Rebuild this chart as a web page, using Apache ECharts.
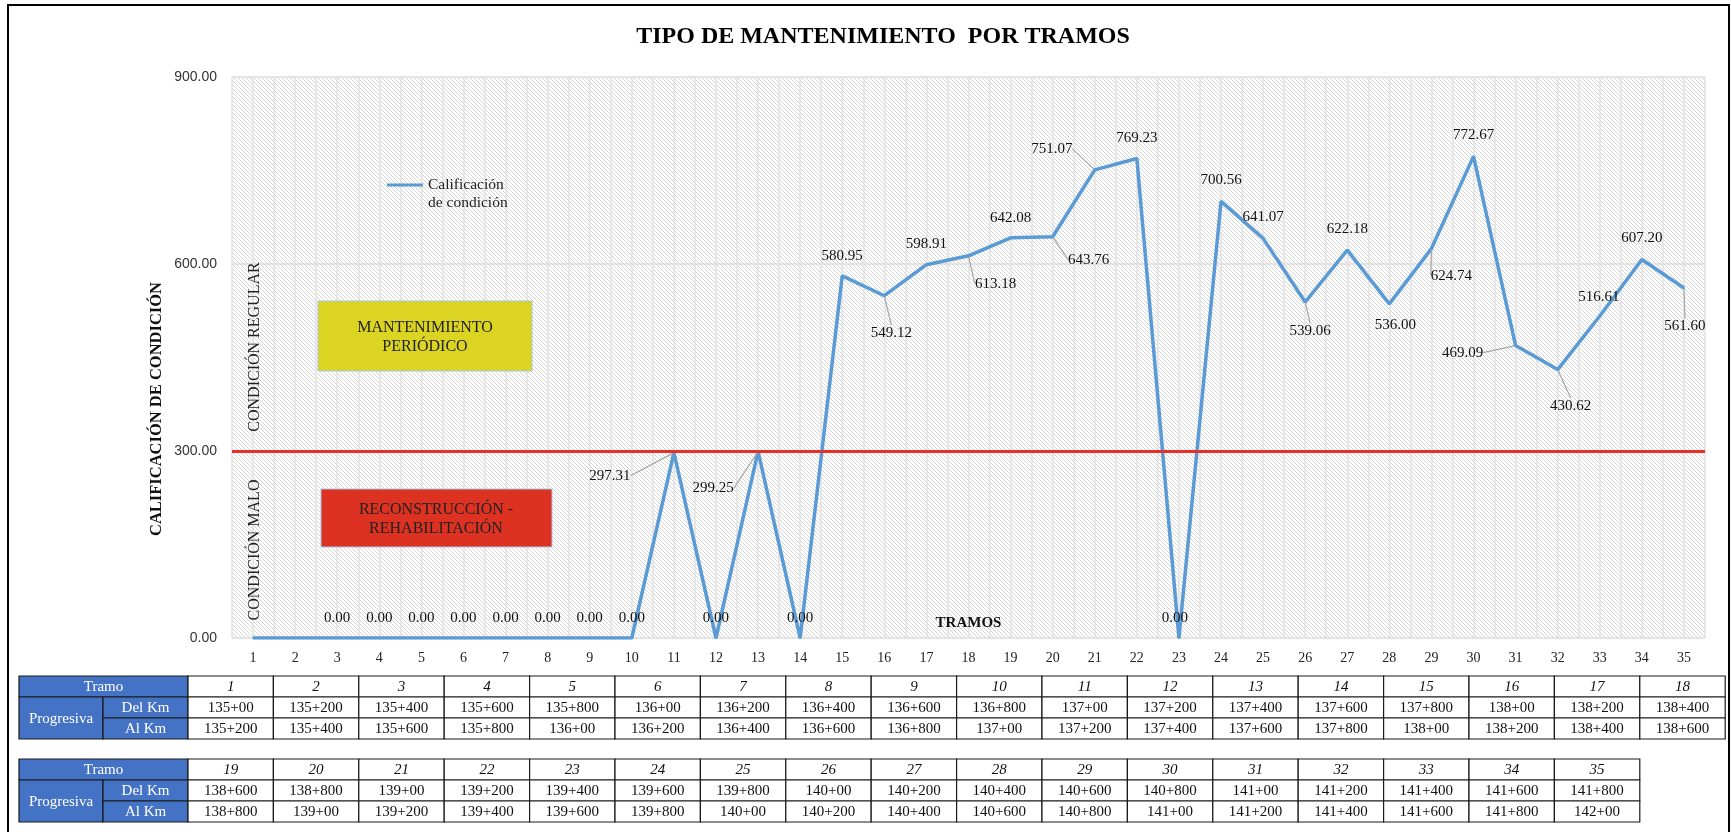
<!DOCTYPE html>
<html>
<head>
<meta charset="utf-8">
<title>Tipo de mantenimiento por tramos</title>
<script src="https://cdn.jsdelivr.net/npm/echarts@6/dist/echarts.min.js"></script>
<style>
  html, body { margin: 0; padding: 0; background: #fff; }
  #grafico { width: 1731px; height: 832px; }
</style>
</head>
<body>
<div id="grafico"></div>
<script>
// datos del grafico
var tramosEje = ['1','2','3','4','5','6','7','8','9','10','11','12','13','14','15','16','17','18',
  '19','20','21','22','23','24','25','26','27','28','29','30','31','32','33','34','35'];
var calificacion = [0, 0, 0, 0, 0, 0, 0, 0, 0, 0, 297.31, 0, 299.25, 0, 580.95, 549.12, 598.91, 613.18,
  642.08, 643.76, 751.07, 769.23, 0, 700.56, 641.07, 539.06, 622.18, 536.00, 624.74, 772.67,
  469.09, 430.62, 516.61, 607.20, 561.60];
var limite = 300;
var ejeY = [0, 300, 600, 900];

// tabla de progresivas
var tramos1 = ['1','2','3','4','5','6','7','8','9','10','11','12','13','14','15','16','17','18'];
var delKm1 = ['135+00','135+200','135+400','135+600','135+800','136+00','136+200','136+400','136+600',
  '136+800','137+00','137+200','137+400','137+600','137+800','138+00','138+200','138+400'];
var alKm1 = ['135+200','135+400','135+600','135+800','136+00','136+200','136+400','136+600','136+800',
  '137+00','137+200','137+400','137+600','137+800','138+00','138+200','138+400','138+600'];
var tramos2 = ['19','20','21','22','23','24','25','26','27','28','29','30','31','32','33','34','35'];
var delKm2 = ['138+600','138+800','139+00','139+200','139+400','139+600','139+800','140+00','140+200',
  '140+400','140+600','140+800','141+00','141+200','141+400','141+600','141+800'];
var alKm2 = ['138+800','139+00','139+200','139+400','139+600','139+800','140+00','140+200','140+400',
  '140+600','140+800','141+00','141+200','141+400','141+600','141+800','142+00'];

// posicion de etiquetas (dx, dy desde el punto) y si llevan linea guia
var desplaz = [
  [0,-20],[0,-20],[0,-20],[0,-20],[0,-20],[0,-20],[0,-20],[0,-20],[0,-20],[0,-20],
  [-64,23],[0,-20],[-45,37],[0,-20],[0,-20],[7,37],[0,-21],[27,28],[0,-20],[36,23],
  [-43,-21],[0,-20],[-4,-20],[0,-21],[0,-21],[5,29],[0,-21],[6,21],[20,27],[0,-21],
  [-53,7],[13,36],[-1,-19],[0,-21],[1,38]
];
var conGuia = [10, 12, 15, 17, 19, 20, 25, 28, 30, 31, 34];

var serif = 'Liberation Serif';

// trama rayada del fondo
var trama = document.createElement('canvas');
trama.width = 4; trama.height = 4;
var ctx = trama.getContext('2d');
ctx.fillStyle = '#ffffff';
ctx.fillRect(0, 0, 4, 4);
ctx.strokeStyle = '#d6d6d6';
ctx.lineWidth = 1;
ctx.beginPath();
ctx.moveTo(-1, -1); ctx.lineTo(5, 5);
ctx.moveTo(-1, 3); ctx.lineTo(1, 5);
ctx.moveTo(3, -1); ctx.lineTo(5, 1);
ctx.stroke();

function tabla(x0, y0, tramos, del, al) {
  var rh = 21, w1 = 84, w2 = 85, cw = 85.4;
  var borde = '#1a1a1a', azul = '#4472c4';
  var els = [];
  function celda(x, y, w, h, fill, txt, color, italic) {
    els.push({ type: 'rect', shape: { x: x, y: y, width: w, height: h },
      style: { fill: fill, stroke: borde, lineWidth: 1.2 } });
    els.push({ type: 'text', x: x + w / 2, y: y + h / 2 + 1,
      style: { text: txt, fill: color, align: 'center', verticalAlign: 'middle',
        font: (italic ? 'italic ' : '') + '15px "' + serif + '"' } });
  }
  celda(x0, y0, w1 + w2, rh, azul, 'Tramo', '#fff');
  celda(x0, y0 + rh, w1, rh * 2, azul, 'Progresiva', '#fff');
  celda(x0 + w1, y0 + rh, w2, rh, azul, 'Del Km', '#fff');
  celda(x0 + w1, y0 + rh * 2, w2, rh, azul, 'Al Km', '#fff');
  for (var i = 0; i < tramos.length; i++) {
    var x = x0 + w1 + w2 + i * cw;
    celda(x, y0, cw, rh, '#fff', tramos[i], '#111', true);
    celda(x, y0 + rh, cw, rh, '#fff', del[i], '#111');
    celda(x, y0 + rh * 2, cw, rh, '#fff', al[i], '#111');
  }
  return els;
}

var myChart = echarts.init(document.getElementById('grafico'));

var datos = calificacion.map(function (v, i) {
  return {
    value: v,
    label: { show: i >= 2 },
    labelLine: { show: conGuia.indexOf(i) >= 0 }
  };
});

var graficos = [
  { type: 'rect', shape: { x: 8, y: 5, width: 1721, height: 840 },
    style: { fill: 'none', stroke: '#000', lineWidth: 2 }, z: 10 },
  // cajas de tipo de mantenimiento
  { type: 'rect', shape: { x: 318, y: 301, width: 214, height: 70 },
    style: { fill: '#dcd422', stroke: '#a9c4e4', lineWidth: 1 }, z: 5 },
  { type: 'text', x: 425, y: 337, z: 6,
    style: { text: 'MANTENIMIENTO\nPERIÓDICO', font: '16px "' + serif + '"', fill: '#222',
      align: 'center', verticalAlign: 'middle', lineHeight: 19 } },
  { type: 'rect', shape: { x: 321, y: 489, width: 231, height: 58 },
    style: { fill: '#dd3222', stroke: '#a9c4e4', lineWidth: 1 }, z: 5 },
  { type: 'text', x: 436, y: 519, z: 6,
    style: { text: 'RECONSTRUCCIÓN -\nREHABILITACIÓN', font: '16px "' + serif + '"', fill: '#222',
      align: 'center', verticalAlign: 'middle', lineHeight: 19 } },
  // textos verticales
  { type: 'text', x: 255, y: 347, rotation: Math.PI / 2, z: 6,
    style: { text: 'CONDICIÓN REGULAR', font: '16px "' + serif + '"', fill: '#222',
      align: 'center', verticalAlign: 'middle' } },
  { type: 'text', x: 255, y: 550, rotation: Math.PI / 2, z: 6,
    style: { text: 'CONDICIÓN MALO', font: '16px "' + serif + '"', fill: '#222',
      align: 'center', verticalAlign: 'middle' } },
  { type: 'text', x: 157, y: 409, rotation: Math.PI / 2, z: 6,
    style: { text: 'CALIFICACIÓN DE CONDICIÓN', font: 'bold 16.5px "' + serif + '"', fill: '#111',
      align: 'center', verticalAlign: 'middle' } }
].concat(tabla(19, 676, tramos1, delKm1, alKm1))
 .concat(tabla(19, 759, tramos2, delKm2, alKm2));

option = {
  backgroundColor: '#fff',
  animation: false,
  title: {
    text: 'TIPO DE MANTENIMIENTO  POR TRAMOS',
    left: 878, top: 20, textAlign: 'center',
    textStyle: { fontFamily: serif, fontWeight: 'bold', fontSize: 24, color: '#000' }
  },
  legend: {
    data: ['Calificación de condición'],
    left: 382, top: 153,
    icon: 'rect', itemWidth: 36, itemHeight: 3,
    formatter: function () { return '\nCalificación\nde condición'; },
    textStyle: { fontFamily: serif, fontSize: 15.5, color: '#222', lineHeight: 18 }
  },
  grid: {
    left: 232, right: 26, top: 77, bottom: 194,
    show: true, borderWidth: 0,
    backgroundColor: { image: trama, repeat: 'repeat' }
  },
  xAxis: [
    {
      type: 'category',
      data: tramosEje,
      boundaryGap: true,
      name: 'TRAMOS', nameLocation: 'middle', nameGap: -22,
      nameTextStyle: { fontFamily: serif, fontWeight: 'bold', fontSize: 15, color: '#111' },
      axisLine: { show: false }, axisTick: { show: false },
      axisLabel: { fontFamily: serif, fontSize: 14, color: '#222', margin: 13 },
      splitLine: { show: false }
    },
    {
      type: 'value', min: 0, max: 70, interval: 1,
      axisLine: { show: false }, axisTick: { show: false }, axisLabel: { show: false },
      splitLine: { show: true, lineStyle: { color: '#e2e2e2', width: 1.5 } }
    }
  ],
  yAxis: {
    type: 'value', min: ejeY[0], max: ejeY[ejeY.length - 1], interval: 300,
    axisLine: { show: false }, axisTick: { show: false },
    axisLabel: {
      fontFamily: 'Liberation Sans', fontSize: 14, color: '#333', margin: 15,
      formatter: function (v) { return v.toFixed(2); }
    },
    splitLine: { lineStyle: { color: '#dcdcdc', width: 1.5 } }
  },
  series: [
    {
      name: 'Calificación de condición',
      type: 'line',
      data: datos,
      symbol: 'circle', symbolSize: 2,
      itemStyle: { color: '#5b9bd5' },
      lineStyle: { color: '#5b9bd5', width: 3.5 },
      label: {
        show: true, position: 'inside',
        fontFamily: serif, fontSize: 15, color: '#111',
        formatter: function (p) { return p.value.toFixed(2); }
      },
      labelLine: { show: true, lineStyle: { color: '#a6a6a6', width: 1.2 } },
      labelLayout: function (p) {
        var d = desplaz[p.dataIndex];
        return { dx: d[0], dy: d[1] };
      },
      markLine: {
        silent: true, symbol: 'none',
        label: { show: false },
        lineStyle: { color: '#e8302a', width: 3, type: 'solid' },
        data: [{ yAxis: limite }]
      },
      z: 3
    }
  ],
  graphic: graficos
};
myChart.setOption(option);
</script>
</body>
</html>
